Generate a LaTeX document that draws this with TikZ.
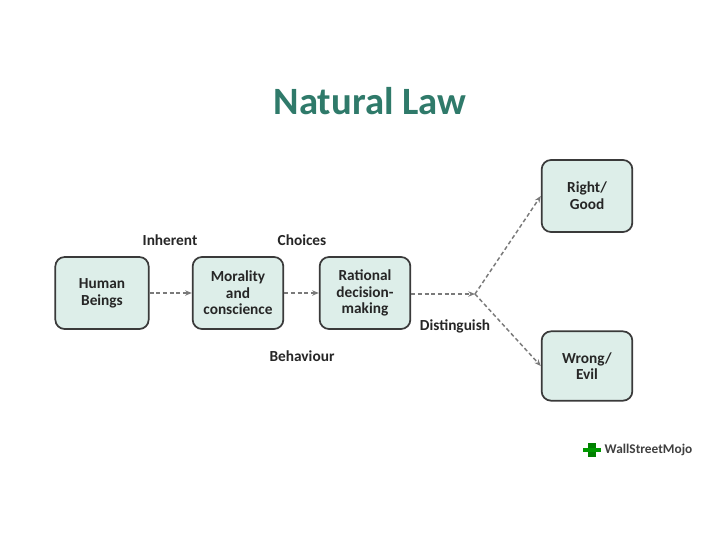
\documentclass[tikz,border=0pt]{standalone}
\usepackage{fontspec}
\setmainfont{Carlito}
\usetikzlibrary{arrows.meta}
\definecolor{teal1}{HTML}{2F7A6A}
\definecolor{boxfill}{HTML}{DDEEE9}
\definecolor{boxline}{HTML}{3A3A3A}
\definecolor{arr}{HTML}{7A7A7A}
\begin{document}
\begin{tikzpicture}[x=0.75pt,y=-0.75pt,
  box/.style={draw=boxline,line width=1.3pt,fill=boxfill,rounded corners=7pt,minimum width=68pt,minimum height=54pt,align=center,font=\fontsize{11.5}{12.5}\selectfont\bfseries,text=black!85},
  lbl/.style={font=\fontsize{11.5}{12.5}\selectfont\bfseries,text=black!85},
  con/.style={draw=arr,line width=1.1pt,dash pattern=on 3pt off 2pt,-{Stealth[length=5pt,width=4pt]}}]
\fill[white] (0,0) rectangle (720,540);
\node[font=\fontsize{29}{32}\selectfont\bfseries,text=teal1] (title) at (370,101) {Natural Law};
\node[box,minimum width=70pt] (hb) at (102,293) {Human\\Beings};
\node[box] (mc) at (238,293) {Morality\\and\\conscience};
\node[box] (rd) at (365,293) {Rational\\decision-\\making};
\node[box] (rg) at (587,196) {Right/\\Good};
\node[box,minimum height=52pt] (we) at (587,366) {Wrong/\\Evil};
\coordinate (j) at (475,294);
\draw[con] (hb) -- (mc);
\draw[con] (mc) -- (rd);
\draw[con] (rd.east|-j) -- (j);
\draw[con] (j) -- (rg.west);
\draw[con] (j) -- (we.west);
\node[lbl] (inh) at (170,240) {Inherent};
\node[lbl] (cho) at (302,240) {Choices};
\node[lbl] (beh) at (302,356) {Behaviour};
\node[lbl] (dis) at (455,326) {Distinguish};
\node[font=\fontsize{10}{12}\selectfont\bfseries,text=black!75,anchor=west] (logo) at (600,450) {WallStreetMojo};
\fill[green!50!black] (588,443) rectangle (596,457);
\fill[green!60!black] (583,448) rectangle (601,452);
\end{tikzpicture}
\end{document}
